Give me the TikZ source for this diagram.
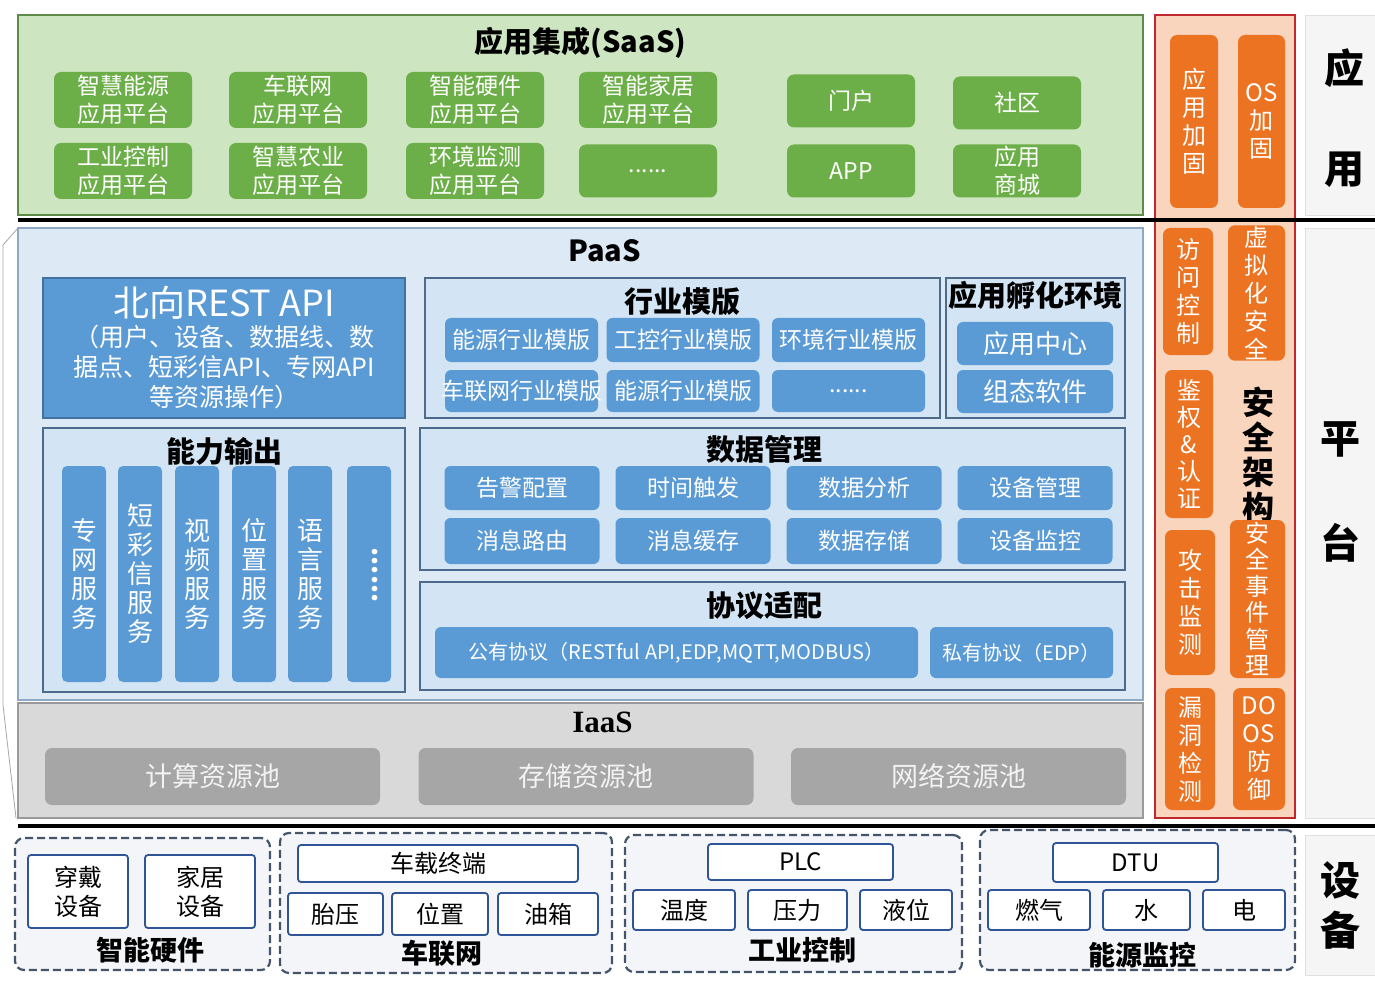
\documentclass[tikz,border=0pt]{standalone}
\usepackage{fontspec}
\setmainfont{Noto Sans CJK SC}
\newfontfamily\serifbf{Liberation Serif}
\usetikzlibrary{positioning}

\definecolor{saasbg}{HTML}{CDE6C1}
\definecolor{saasline}{HTML}{5E8A4A}
\definecolor{appgreen}{HTML}{6CAF48}
\definecolor{secbg}{HTML}{F9D5BD}
\definecolor{secline}{HTML}{C0282D}
\definecolor{secorange}{HTML}{EC7322}
\definecolor{paasbg}{HTML}{DDEAF6}
\definecolor{paasline}{HTML}{8EA9C4}
\definecolor{grpline}{HTML}{4F6B8C}
\definecolor{grpbg}{HTML}{D3E4F4}
\definecolor{svcblue}{HTML}{5B9BD5}
\definecolor{apiline}{HTML}{41719C}
\definecolor{iaasbg}{HTML}{D9D9D9}
\definecolor{iaasline}{HTML}{9A9A9A}
\definecolor{poolgray}{HTML}{A6A6A6}
\definecolor{devline}{HTML}{44546A}
\definecolor{devbg}{HTML}{F3F5F9}
\definecolor{devblue}{HTML}{2F5597}
\definecolor{sidebg}{HTML}{F5F5F5}

\begin{document}
\begin{tikzpicture}[x=1pt, y=-1pt,
  every node/.style={align=center, inner sep=1pt},
  sz/.style 2 args={minimum width=#1pt, minimum height=#2pt},
  tier/.style={draw, line width=1.2pt},
  grpframe/.style={draw=grpline, fill=grpbg, line width=1.2pt},
  ttl/.style={font=\fontsize{29}{34}\selectfont\bfseries},
  gbtn/.style={fill=appgreen, text=white, rounded corners=7pt, font=\fontsize{23}{28}\selectfont},
  obox/.style={fill=secorange, text=white, rounded corners=7pt, font=\fontsize{24}{28}\selectfont},
  bbox/.style={fill=svcblue, text=white, rounded corners=6pt, font=\fontsize{23}{28}\selectfont},
  vbar/.style={fill=svcblue, text=white, rounded corners=5pt, sz={44}{216}, font=\fontsize{26}{29}\selectfont},
  pool/.style={fill=poolgray, text=white!90!gray, rounded corners=7pt, sz={335}{57}, font=\fontsize{27}{30}\selectfont},
  devframe/.style={draw=devline, fill=devbg, dash pattern=on 8pt off 4pt, line width=2.2pt, rounded corners=9pt},
  devbox/.style={draw=devblue, fill=white, line width=1.8pt, rounded corners=3pt, font=\fontsize{24}{29}\selectfont},
  devttl/.style={font=\fontsize{27}{30}\selectfont\bfseries},
  sidebox/.style={draw=black!12, fill=sidebg, line width=0.8pt},
  sidetxt/.style={font=\fontsize{40}{44}\selectfont\bfseries},
  sepline/.style={line width=4pt}
]
\useasboundingbox (0,0) rectangle (1375,981);

% SaaS
\node[tier, draw=saasline, fill=saasbg, sz={1125}{200}] (saas) at (580.5,115) {};
\node[ttl, below=12pt of saas.north] (saasttl) {应用集成(SaaS)};
\node[gbtn, sz={138}{56}] (app1) at (123,100) {智慧能源\\应用平台};
\node[gbtn, sz={138}{56}] (app2) at (298,100) {车联网\\应用平台};
\node[gbtn, sz={138}{56}] (app3) at (475,100) {智能硬件\\应用平台};
\node[gbtn, sz={138}{56}] (app4) at (648,100) {智能家居\\应用平台};
\node[gbtn, sz={128}{53}] (app5) at (851,101) {门户};
\node[gbtn, sz={128}{53}] (app6) at (1017,103) {社区};
\node[gbtn, sz={138}{56}] (app7) at (123,171) {工业控制\\应用平台};
\node[gbtn, sz={138}{56}] (app8) at (298,171) {智慧农业\\应用平台};
\node[gbtn, sz={138}{56}] (app9) at (475,171) {环境监测\\应用平台};
\node[gbtn, sz={138}{53}] (app10) at (648,171) {......};
\node[gbtn, sz={128}{53}] (app11) at (851,171) {APP};
\node[gbtn, sz={128}{53}] (app12) at (1017,171) {应用\\商城};

% PaaS
\draw[black!35, line width=0.8pt] (18,228) -- (3,245) -- (3,705) -- (16,818);
\node[tier, draw=paasline, fill=paasbg, sz={1125}{472}] (paas) at (580.5,464) {};
\node[ttl, below=11pt of paas.north, xshift=24pt] (paasttl) {PaaS};

\node[draw=apiline, fill=svcblue, line width=1.2pt, text=white, sz={362}{140},
  font=\fontsize{25}{30}\selectfont] (api) at (224,348)
  {{\fontsize{36}{38}\selectfont 北向REST API}\\（用户、设备、数据线、数\\据点、短彩信API、专网API\\等资源操作）};

\node[grpframe, sz={515}{140}] (tmpl) at (682.5,348) {};
\node[ttl, below=9pt of tmpl.north] (tmplttl) {行业模版};
\node[bbox, sz={153}{44}] (tp1) at (521.5,340) {能源行业模版};
\node[bbox, sz={153}{44}] (tp2) at (683,340) {工控行业模版};
\node[bbox, sz={153}{44}] (tp3) at (848.5,340) {环境行业模版};
\node[bbox, sz={153}{42}] (tp4) at (521.5,391) {\makebox[0pt]{车联网行业模版}};
\node[bbox, sz={153}{42}] (tp5) at (683,391) {能源行业模版};
\node[bbox, sz={153}{42}] (tp6) at (848.5,391) {......};

\node[grpframe, sz={179}{140}] (incub) at (1035.5,348) {};
\node[ttl, below=3pt of incub.north] (incubttl) {应用孵化环境};
\node[bbox, sz={156}{43}, font=\fontsize{26}{30}\selectfont] (inc1) at (1035,343.5) {应用中心};
\node[bbox, sz={156}{43}, font=\fontsize{26}{30}\selectfont] (inc2) at (1035,391.5) {组态软件};

\node[grpframe, sz={362}{264}] (abil) at (224,560) {};
\node[ttl, below=9pt of abil.north] (abilttl) {能力输出};
\node[vbar] (ab1) at (84,574) {专\\网\\服\\务};
\node[vbar] (ab2) at (140,574) {短\\彩\\信\\服\\务};
\node[vbar] (ab3) at (197,574) {视\\频\\服\\务};
\node[vbar] (ab4) at (254,574) {位\\置\\服\\务};
\node[vbar] (ab5) at (310,574) {语\\言\\服\\务};
\node[vbar] (ab6) at (369,574) {};
\node[rotate=-90, text=white, font=\fontsize{26}{29}\selectfont\bfseries] (ab6txt) at (375,575) {......};

\node[grpframe, sz={705}{142}] (data) at (772.5,499) {};
\node[ttl, below=7pt of data.north, xshift=-8pt] (datattl) {数据管理};
\node[bbox, sz={155}{44}] (dm1) at (522,488) {告警配置};
\node[bbox, sz={155}{44}] (dm2) at (693,488) {时间触发};
\node[bbox, sz={155}{44}] (dm3) at (864,488) {数据分析};
\node[bbox, sz={155}{44}] (dm4) at (1035,488) {设备管理};
\node[bbox, sz={155}{46}] (dm5) at (522,541) {消息路由};
\node[bbox, sz={155}{46}] (dm6) at (693,541) {消息缓存};
\node[bbox, sz={155}{46}] (dm7) at (864,541) {数据存储};
\node[bbox, sz={155}{46}] (dm8) at (1035,541) {设备监控};

\node[grpframe, sz={705}{108}] (proto) at (772.5,636) {};
\node[ttl, below=9pt of proto.north, xshift=-8pt] (protottl) {协议适配};
\node[bbox, sz={483}{51}, font=\fontsize{20}{24}\selectfont] (pr1) at (676.5,652.5) {公有协议（RESTful API,EDP,MQTT,MODBUS）};
\node[bbox, sz={183}{51}, font=\fontsize{20}{24}\selectfont] (pr2) at (1021.5,652.5) {私有协议（EDP）};

% IaaS
\node[tier, draw=iaasline, fill=iaasbg, sz={1125}{115}] (iaas) at (580.5,760.5) {};
\node[below=8pt of iaas.north, xshift=22pt, font={\fontsize{31}{34}\serifbf\bfseries}] (iaasttl) {IaaS};
\node[pool] (pl1) at (212.5,776.5) {计算资源池};
\node[pool] (pl2) at (586,776.5) {存储资源池};
\node[pool] (pl3) at (958.5,776.5) {网络资源池};

% security column
\node[draw=secline, fill=secbg, line width=1.2pt, sz={140}{803}] (sec) at (1225,416.5) {};
\node[obox, sz={48}{173}] (sa1) at (1194,121.5) {应\\用\\加\\固};
\node[obox, sz={47}{173}] (sa2) at (1261.5,121.5) {OS\\加\\固};
\node[obox, sz={50}{127}] (sp1) at (1188,291.5) {访\\问\\控\\制};
\node[obox, sz={57}{130}] (sp2) at (1256.5,293) {虚\\拟\\化\\安\\全};
\node[obox, sz={48}{148}, font=\fontsize{24}{27}\selectfont] (sp3) at (1189,444) {鉴\\权\\\&\\认\\证};
\node[font=\fontsize{32}{35}\selectfont\bfseries] (secttl) at (1258,455) {安\\全\\架\\构};
\node[obox, sz={50}{145}] (sp4) at (1190,602.5) {攻\\击\\监\\测};
\node[obox, sz={55}{158}, font=\fontsize{24}{26.5}\selectfont] (sp5) at (1257.5,599) {安\\全\\事\\件\\管\\理};
\node[obox, sz={50}{122}] (sp6) at (1190,749) {漏\\洞\\检\\测};
\node[obox, sz={52}{122}] (sp7) at (1259,749) {DO\\OS\\防\\御};

% side labels
\node[sidebox, sz={70}{200}] (sideapp) at (1340,115) {};
\node[sidetxt, font=\fontsize{40}{100}\selectfont\bfseries] (sideapptxt) at (1344,118) {应\\用};
\node[sidebox, sz={70}{590}] (sideplat) at (1340,523) {};
\node[sidetxt, font=\fontsize{40}{105}\selectfont\bfseries] (sideplattxt) at (1340,492) {平\\台};
\node[sidebox, sz={70}{140}] (sidedev) at (1340,905) {};
\node[sidetxt, font=\fontsize{40}{50}\selectfont\bfseries] (sidedevtxt) at (1340,905) {设\\备};

% separators
\draw[sepline] (18,220) -- (1375,220);
\draw[sepline] (18,826) -- (1375,826);

% devices
\node[devframe, sz={255}{132}] (dev1) at (142.5,904) {};
\node[devbox, sz={100}{73}] (wear) at (78,891.5) {穿戴\\设备};
\node[devbox, sz={110}{73}] (home) at (200,891.5) {家居\\设备};
\node[devttl] (dev1ttl) at (150,950) {智能硬件};

\node[devframe, sz={332}{140}] (dev2) at (446,903) {};
\node[devbox, sz={280}{37}] (vterm) at (438,863.5) {车载终端};
\node[devbox, sz={95}{42}] (tire) at (335.5,914) {胎压};
\node[devbox, sz={96}{42}] (gps) at (440,914) {位置};
\node[devbox, sz={100}{42}] (tank) at (548,914) {油箱};
\node[devttl] (dev2ttl) at (442,953) {车联网};

\node[devframe, sz={337}{137}] (dev3) at (793.5,903.5) {};
\node[devbox, sz={185}{36}] (plc) at (800.5,862) {PLC};
\node[devbox, sz={102}{40}] (temp) at (684,910) {温度};
\node[devbox, sz={99}{40}] (press) at (797.5,910) {压力};
\node[devbox, sz={92}{40}] (level) at (906,910) {液位};
\node[devttl] (dev3ttl) at (802,950) {工业控制};

\node[devframe, sz={315}{140}] (dev4) at (1137.5,900) {};
\node[devbox, sz={165}{39}] (dtu) at (1135.5,862.5) {DTU};
\node[devbox, sz={102}{40}] (gas) at (1039,910) {燃气};
\node[devbox, sz={87}{40}] (water) at (1146.5,910) {水};
\node[devbox, sz={82}{40}] (power) at (1244,910) {电};
\node[devttl] (dev4ttl) at (1142,955) {能源监控};
\end{tikzpicture}
\end{document}
